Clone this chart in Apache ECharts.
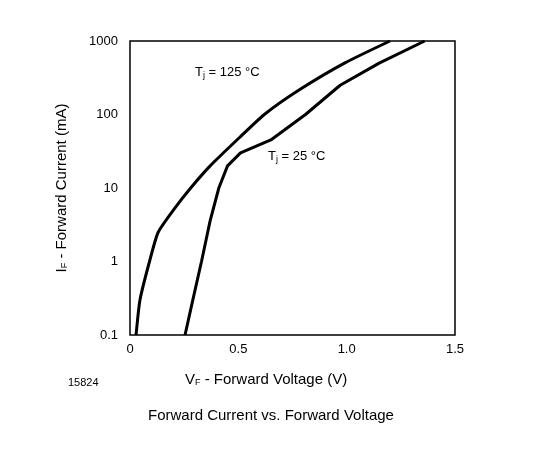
<!DOCTYPE html>
<html><head><meta charset="utf-8">
<script src="https://cdn.jsdelivr.net/npm/echarts@6/dist/echarts.min.js"></script>
<style>html,body{margin:0;background:#fff}#c{width:541px;height:456px}</style>
</head><body><div id="c"></div>
<script>
const vf125 = [0.028,0.046,0.09,0.13,0.2,0.28,0.37,0.51,0.62,0.78,0.99,1.2];
const if125 = [0.1,0.3,1,2.5,5,10,20,50,100,215,500,1000];
const vf25 = [0.254,0.29,0.33,0.37,0.41,0.45,0.51,0.65,0.81,0.97,1.15,1.36];
const if25 = [0.1,0.3,1,3.6,10,20,30,45,100,250,500,1000];
const xTicks = [0,0.5,1.0,1.5];
const yTicks = [0.1,1,10,100,1000];
const font = 'Liberation Sans, Arial, sans-serif';
const chart = echarts.init(document.getElementById('c'));
const rich = {s:{fontSize:9,fontFamily:font,color:'#000',verticalAlign:'bottom',padding:[6,0,0,0]}};
chart.setOption({
  animation:false,
  grid:{left:130,top:41,width:325,height:294,show:true,borderColor:'#000',borderWidth:1.5},
  xAxis:{type:'value',min:0,max:1.5,interval:0.5,
    axisLine:{show:false},axisTick:{show:false},splitLine:{show:false},
    axisLabel:{fontSize:13,fontFamily:font,color:'#000',margin:8,
      formatter:v=>{const i=xTicks.findIndex(t=>Math.abs(t-v)<1e-9);return i===0?'0':xTicks[i].toFixed(1);}}},
  yAxis:{type:'log',min:0.1,max:1000,logBase:10,
    axisLine:{show:false},axisTick:{show:false},splitLine:{show:false},
    axisLabel:{fontSize:13,fontFamily:font,color:'#000',margin:12,formatter:v=>String(yTicks.find(t=>Math.abs(t-v)/t<1e-6)??v)}},
  series:[
    {type:'line',data:vf125.map((x,i)=>[x,if125[i]]),showSymbol:false,smooth:0.2,lineStyle:{color:'#000',width:3}},
    {type:'line',data:vf25.map((x,i)=>[x,if25[i]]),showSymbol:false,lineStyle:{color:'#000',width:3}}
  ],
  graphic:[
    {type:'text',left:195,top:66,style:{text:'T{s|j} = 125 °C',rich,fontSize:13,fontFamily:font,fill:'#000'}},
    {type:'text',left:268,top:150,style:{text:'T{s|j} = 25 °C',rich,fontSize:13,fontFamily:font,fill:'#000'}},
    {type:'text',x:62,y:188,rotation:Math.PI/2,style:{text:'I{s|F} - Forward Current (mA)',rich,fontSize:15,fontFamily:font,fill:'#000',align:'center',verticalAlign:'middle'}},
    {type:'text',left:185,top:372,style:{text:'V{s|F} - Forward Voltage (V)',rich,fontSize:15,fontFamily:font,fill:'#000'}},
    {type:'text',left:68,top:377,style:{text:'15824',fontSize:11,fontFamily:font,fill:'#000'}},
    {type:'text',left:148,top:408,style:{text:'Forward Current vs. Forward Voltage',fontSize:15,fontFamily:font,fill:'#000'}}
  ]
});
</script></body></html>
